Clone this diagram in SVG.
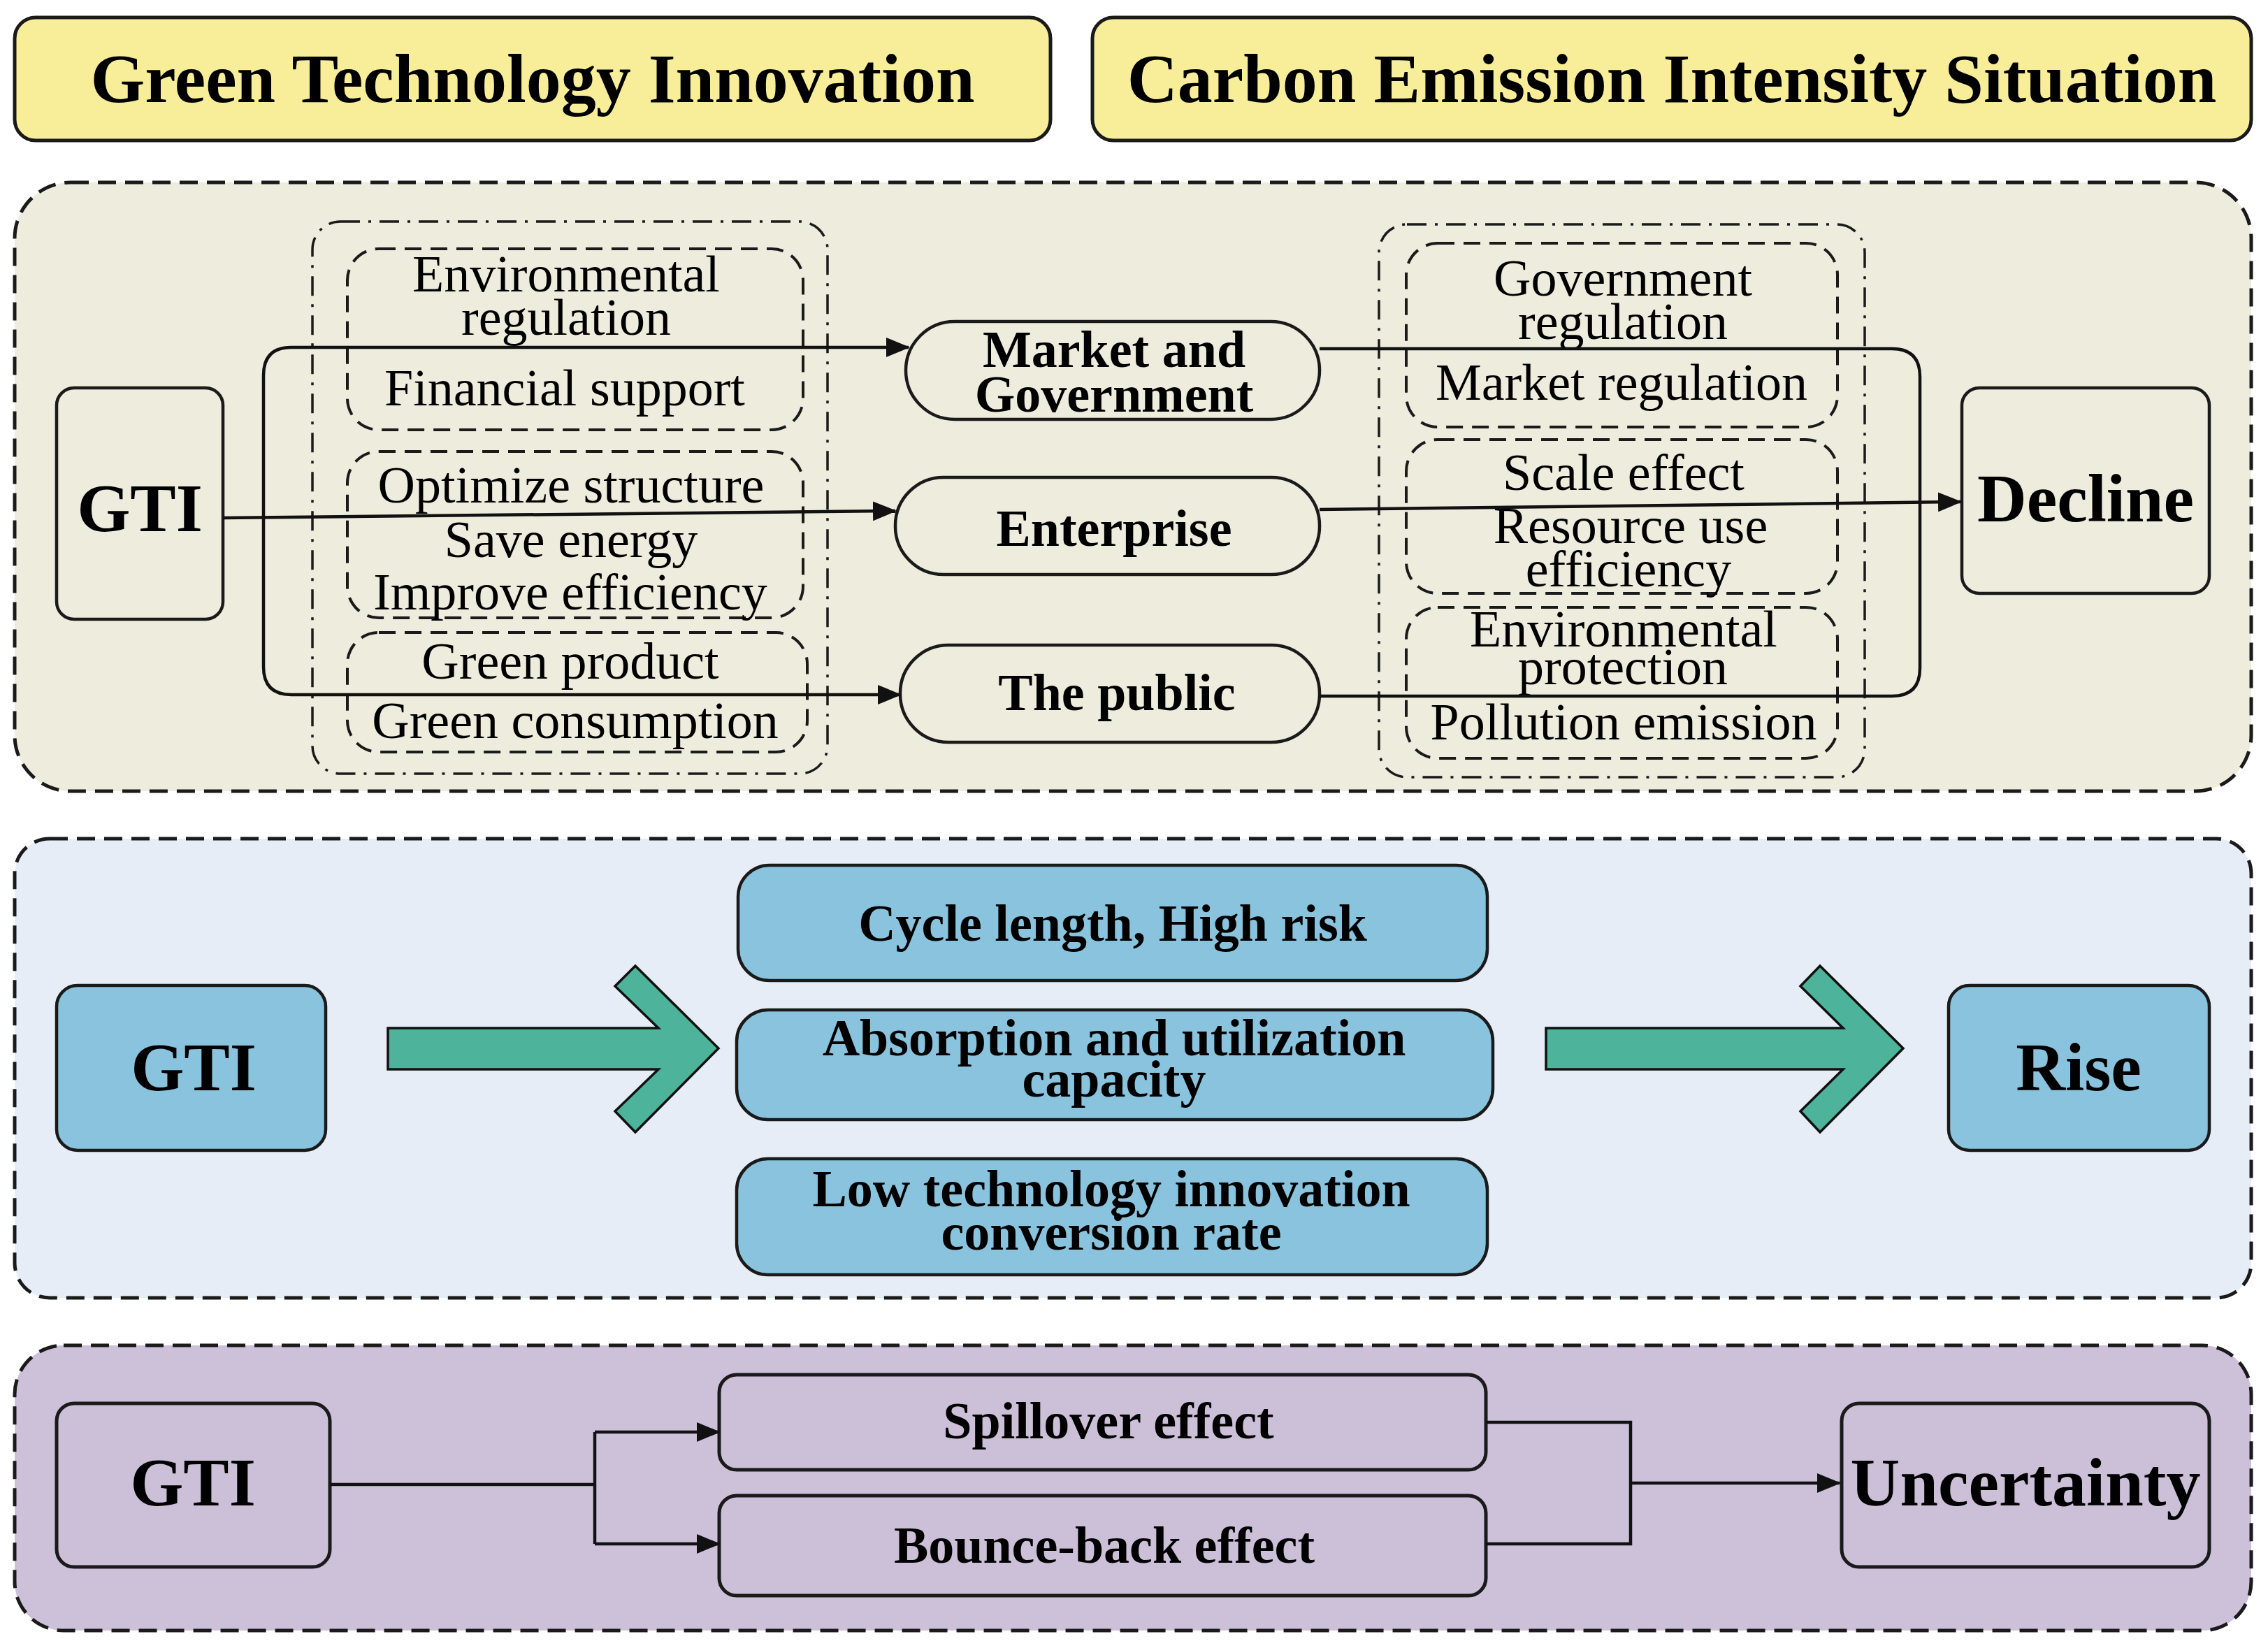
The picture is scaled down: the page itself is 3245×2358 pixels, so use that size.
<svg xmlns="http://www.w3.org/2000/svg" width="3245" height="2358" viewBox="0 0 3245 2358">
<defs>
<marker id="ah" markerUnits="userSpaceOnUse" markerWidth="34" markerHeight="28" refX="32" refY="14" orient="auto">
<path d="M0,0 L34,14 L0,28 z" fill="#111"/>
</marker>
<style>
.hdr{fill:#F8EE99;stroke:#1a1a1a;stroke-width:5}
.panel{stroke:#1a1a1a;stroke-width:5;stroke-dasharray:26 13}
.grp{fill:none;stroke:#1a1a1a;stroke-width:3.5;stroke-dasharray:28 12 4 12}
.sub{fill:none;stroke:#1a1a1a;stroke-width:4;stroke-dasharray:24 13}
.box{fill:none;stroke:#1a1a1a;stroke-width:4.5}
.blue{fill:#89C3DD;stroke:#1a1a1a;stroke-width:4.5}
.lav{fill:#CCC0D8;stroke:#1a1a1a;stroke-width:5}
.con{fill:none;stroke:#111;stroke-width:4.5}
.garrow{fill:#4DB39B;stroke:#111;stroke-width:3.5;stroke-linejoin:miter}
text{font-family:"Liberation Serif","Times New Roman",serif;fill:#000;text-anchor:middle}
.h{font-size:100px;font-weight:bold}
.big{font-size:98px;font-weight:bold}
.b{font-size:74px;font-weight:bold}
.r{font-size:74px}
</style>
</defs>

<g id="header-gti">
<rect class="hdr" x="21" y="25" width="1482" height="176" rx="30"/>
<text class="h" x="762" y="146">Green Technology Innovation</text>
</g>
<g id="header-cei">
<rect class="hdr" x="1563" y="25" width="1658" height="176" rx="30"/>
<text class="h" x="2392" y="146">Carbon Emission Intensity Situation</text>
</g>

<g id="panel-decline">
<rect class="panel" fill="#EDECDD" x="21" y="261" width="3200" height="871" rx="80"/>
</g>
<g id="panel-rise">
<rect class="panel" fill="#E7EDF7" x="21" y="1200" width="3200" height="657" rx="50"/>
</g>
<g id="panel-uncertainty">
<rect class="panel" fill="#CDC1DA" x="21" y="1925" width="3200" height="408" rx="70"/>
</g>

<g id="group-left">
<rect class="grp" x="447" y="317" width="737" height="790" rx="40"/>
</g>
<g id="sub-left-1">
<rect class="sub" x="497" y="356" width="652" height="259" rx="45"/>
<text class="r" x="810" y="417">Environmental</text>
<text class="r" x="810" y="479">regulation</text>
<text class="r" x="808" y="580">Financial support</text>
</g>
<g id="sub-left-2">
<rect class="sub" x="497" y="646" width="652" height="238" rx="45"/>
<text class="r" x="817" y="719">Optimize structure</text>
<text class="r" x="817" y="797">Save energy</text>
<text class="r" x="816" y="872">Improve efficiency</text>
</g>
<g id="sub-left-3">
<rect class="sub" x="497" y="905" width="658" height="171" rx="45"/>
<text class="r" x="816" y="971">Green product</text>
<text class="r" x="823" y="1056">Green consumption</text>
</g>

<g id="group-right">
<rect class="grp" x="1973" y="321" width="695" height="791" rx="40"/>
</g>
<g id="sub-right-1">
<rect class="sub" x="2012" y="348" width="617" height="263" rx="45"/>
<text class="r" x="2322" y="423">Government</text>
<text class="r" x="2322" y="485">regulation</text>
<text class="r" x="2320" y="572">Market regulation</text>
</g>
<g id="sub-right-2">
<rect class="sub" x="2012" y="629" width="617" height="220" rx="45"/>
<text class="r" x="2323" y="701">Scale effect</text>
<text class="r" x="2333" y="777">Resource use</text>
<text class="r" x="2330" y="839">efficiency</text>
</g>
<g id="sub-right-3">
<rect class="sub" x="2012" y="869" width="617" height="216" rx="45"/>
<text class="r" x="2323" y="925">Environmental</text>
<text class="r" x="2322" y="979">protection</text>
<text class="r" x="2323" y="1058">Pollution emission</text>
</g>

<g id="gti-1">
<rect class="box" x="81" y="555" width="238" height="331" rx="25"/>
<text class="big" x="200" y="760">GTI</text>
</g>
<g id="market-government">
<rect class="box" x="1296" y="460" width="592" height="140" rx="70"/>
<text class="b" x="1594" y="525">Market and</text>
<text class="b" x="1594" y="589">Government</text>
</g>
<g id="enterprise">
<rect class="box" x="1281" y="683" width="607" height="139" rx="69"/>
<text class="b" x="1594" y="781">Enterprise</text>
</g>
<g id="the-public">
<rect class="box" x="1288" y="923" width="600" height="139" rx="69"/>
<text class="b" x="1598" y="1016">The public</text>
</g>
<g id="decline">
<rect class="box" x="2807" y="555" width="354" height="294" rx="25"/>
<text class="big" x="2984" y="746">Decline</text>
</g>

<g id="gti-2">
<rect class="blue" x="81" y="1410" width="385" height="236" rx="30"/>
<text class="big" x="277" y="1560">GTI</text>
</g>
<g id="cycle-length">
<rect class="blue" x="1056" y="1238" width="1072" height="165" rx="45"/>
<text class="b" x="1592" y="1346">Cycle length, High risk</text>
</g>
<g id="absorption">
<rect class="blue" x="1054" y="1445" width="1082" height="157" rx="45"/>
<text class="b" x="1594" y="1510">Absorption and utilization</text>
<text class="b" x="1594" y="1569">capacity</text>
</g>
<g id="low-conversion">
<rect class="blue" x="1054" y="1658" width="1074" height="166" rx="45"/>
<text class="b" x="1590" y="1726">Low technology innovation</text>
<text class="b" x="1590" y="1788">conversion rate</text>
</g>
<g id="rise">
<rect class="blue" x="2788" y="1410" width="373" height="236" rx="30"/>
<text class="big" x="2974" y="1560">Rise</text>
</g>

<g id="gti-3">
<rect class="lav" x="81" y="2008" width="391" height="234" rx="25"/>
<text class="big" x="276" y="2154">GTI</text>
</g>
<g id="spillover">
<rect class="lav" x="1029" y="1967" width="1097" height="136" rx="25"/>
<text class="b" x="1586" y="2058">Spillover effect</text>
</g>
<g id="bounce-back">
<rect class="lav" x="1029" y="2140" width="1097" height="143" rx="25"/>
<text class="b" x="1580" y="2236">Bounce-back effect</text>
</g>
<g id="uncertainty">
<rect class="lav" x="2635" y="2008" width="526" height="234" rx="25"/>
<text class="big" x="2898" y="2154">Uncertainty</text>
</g>

<g id="connectors">
<path class="con" d="M319,741 L1281,731" marker-end="url(#ah)"/>
<path class="con" d="M377,745 V537 Q377,497 417,497 H1300" marker-end="url(#ah)"/>
<path class="con" d="M377,745 V954 Q377,994 417,994 H1288" marker-end="url(#ah)"/>
<path class="con" d="M1888,499 H2707 Q2747,499 2747,539 V956 Q2747,996 2707,996 H1888"/>
<path class="con" d="M1888,729 L2805,718" marker-end="url(#ah)"/>
<polygon class="garrow" points="555,1471 942,1471 880,1411 909,1382 1028,1500 909,1620 880,1590 942,1530 555,1530"/>
<polygon class="garrow" points="2212,1471 2637,1471 2576,1411 2604,1382 2723,1500 2604,1620 2576,1590 2637,1530 2212,1530"/>
<path class="con" d="M472,2124 H851"/>
<path class="con" d="M851,2049 V2209"/>
<path class="con" d="M851,2049 H1029" marker-end="url(#ah)"/>
<path class="con" d="M851,2209 H1029" marker-end="url(#ah)"/>
<path class="con" d="M2126,2035 H2333 V2209 H2126"/>
<path class="con" d="M2333,2122 H2632" marker-end="url(#ah)"/>
</g>
</svg>
